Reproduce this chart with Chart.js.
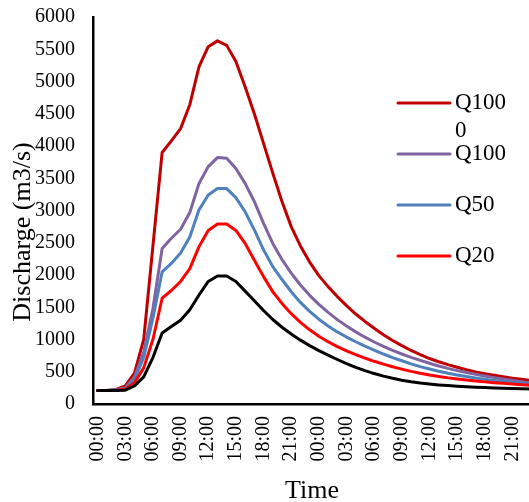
<!DOCTYPE html>
<html lang="en">
<head>
  <meta charset="UTF-8">
  <title>Discharge hydrographs</title>
  <script src="https://cdn.jsdelivr.net/npm/chart.js"></script>
  <style>
    html, body {
      margin: 0;
      padding: 0;
      background: #fff;
      overflow: hidden;
    }
    #wrap {
      width: 529px;
      height: 502px;
      overflow: hidden;
    }
  </style>
</head>
<body>
  <div id="wrap">
    <canvas id="grafico" width="567" height="502"></canvas>
  </div>

  <script>
    // hourly time steps over two days
    const horas = [];
    for (let d = 0; d < 2; d++) {
      for (let h = 0; h < 24; h++) {
        horas.push(String(h).padStart(2, '0') + ':00');
      }
    }

    const q1000 = [210, 210, 225, 280, 480, 1000, 2450, 3900, 4080, 4270, 4640, 5230, 5540, 5630, 5560, 5310,
      4920, 4500, 4040, 3580, 3140, 2750, 2450, 2200, 1990, 1820, 1665, 1525, 1395, 1280, 1175, 1075,
      985, 905, 830, 765, 705, 655, 610, 570, 530, 498, 470, 445, 422, 401, 382, 365];
    const q100 = [210, 210, 220, 250, 420, 800, 1480, 2410, 2570, 2710, 2970, 3420, 3680, 3820, 3810, 3650,
      3420, 3140, 2800, 2490, 2240, 2030, 1845, 1685, 1545, 1420, 1308, 1208, 1118, 1036, 961, 893,
      831, 775, 724, 677, 632, 590, 552, 518, 487, 459, 433, 409, 387, 366, 346, 327];
    const q50 = [210, 210, 218, 240, 380, 720, 1330, 2050, 2180, 2340, 2590, 3010, 3240, 3340, 3340, 3200,
      2980, 2700, 2390, 2130, 1930, 1740, 1575, 1435, 1315, 1210, 1118, 1038, 965, 898, 836, 775,
      720, 670, 622, 580, 543, 508, 477, 450, 425, 403, 383, 365, 348, 333, 319, 306];
    const q20 = [210, 210, 215, 230, 330, 560, 1000, 1640, 1760, 1900, 2100, 2440, 2690, 2790, 2790, 2690,
      2490, 2230, 1975, 1740, 1560, 1400, 1265, 1150, 1050, 965, 890, 825, 765, 712, 662, 618,
      577, 540, 506, 476, 450, 426, 405, 387, 371, 356, 343, 331, 320, 310, 300, 291];
    const qNegra = [210, 210, 210, 215, 280, 420, 720, 1100, 1200, 1300, 1460, 1690, 1900, 1985, 1985, 1900,
      1750, 1600, 1450, 1310, 1190, 1085, 990, 905, 828, 758, 690, 625, 568, 517, 472, 432,
      398, 369, 345, 325, 309, 296, 285, 276, 268, 261, 255, 249, 244, 239, 235, 231];

    const fuente = "'Liberation Serif', 'Times New Roman', serif";

    function serie(label, data, color, leyenda) {
      return {
        label: label,
        data: data,
        borderColor: color,
        backgroundColor: color,
        borderWidth: 3,
        pointRadius: 0,
        tension: 0,
        fill: false,
        borderCapStyle: 'round',
        borderJoinStyle: 'round',
        enLeyenda: leyenda
      };
    }

    // legend and axis titles drawn by hand (Excel style: legend wraps, y title overlaps ticks)
    const extras = {
      id: 'extras',
      afterDraw(chart) {
        const ctx = chart.ctx;
        ctx.save();
        ctx.fillStyle = '#000';

        ctx.font = '26px ' + fuente;
        ctx.textAlign = 'center';
        ctx.textBaseline = 'alphabetic';
        ctx.fillText('Time', 312, 498);

        ctx.save();
        ctx.translate(30, 232);
        ctx.rotate(-Math.PI / 2);
        ctx.fillText('Discharge (m3/s)', 0, 0);
        ctx.restore();

        ctx.font = '23px ' + fuente;
        ctx.textAlign = 'left';
        ctx.textBaseline = 'middle';
        let y = 103;
        const items = chart.data.datasets.filter(d => d.enLeyenda).reverse();
        items.forEach(ds => {
          ctx.strokeStyle = ds.borderColor;
          ctx.lineWidth = 3;
          ctx.lineCap = 'round';
          ctx.beginPath();
          ctx.moveTo(398, y);
          ctx.lineTo(450, y);
          ctx.stroke();
          // wrap text by characters when it is too wide for the box
          let linea = '';
          let ly = y;
          for (const ch of ds.label) {
            if (ctx.measureText(linea + ch).width > 56 && linea) {
              ctx.fillText(linea, 455, ly);
              linea = '';
              ly += 28;
            }
            linea += ch;
          }
          ctx.fillText(linea, 455, ly);
          y += 51;
        });
        ctx.restore();
      }
    };

    const ctx = document.getElementById('grafico').getContext('2d');
    const chart = new Chart(ctx, {
      type: 'line',
      data: {
        labels: horas,
        datasets: [
          serie('', qNegra, '#000000', false),
          serie('Q20', q20, '#FF0000', true),
          serie('Q50', q50, '#4F81BD', true),
          serie('Q100', q100, '#8064A2', true),
          serie('Q1000', q1000, '#C00000', true)
        ]
      },
      options: {
        responsive: false,
        animation: false,
        layout: { padding: { left: 0, right: 10, top: 17, bottom: 0 } },
        plugins: {
          legend: { display: false },
          tooltip: { enabled: false }
        },
        scales: {
          x: {
            offset: true,
            grid: { display: false, drawTicks: false },
            border: { display: true, color: '#000', width: 2.5 },
            ticks: {
              autoSkip: false,
              maxRotation: 90,
              minRotation: 90,
              padding: 12,
              color: '#000',
              font: { family: fuente, size: 20 },
              callback: function (val, i) {
                return i % 3 === 0 ? horas[i] : '';
              }
            },
            afterFit: s => { s.height = 98; }
          },
          y: {
            min: 0,
            max: 6000,
            grid: { display: false, drawTicks: false },
            border: { display: true, color: '#000', width: 2.5 },
            ticks: {
              stepSize: 500,
              padding: 18,
              color: '#000',
              font: { family: fuente, size: 20 },
              callback: v => String(v)
            },
            afterFit: s => {
              s.width = 93;
              s.paddingTop = 0;
              s.paddingBottom = 0;
            }
          }
        }
      },
      plugins: [extras]
    });
  </script>
</body>
</html>
